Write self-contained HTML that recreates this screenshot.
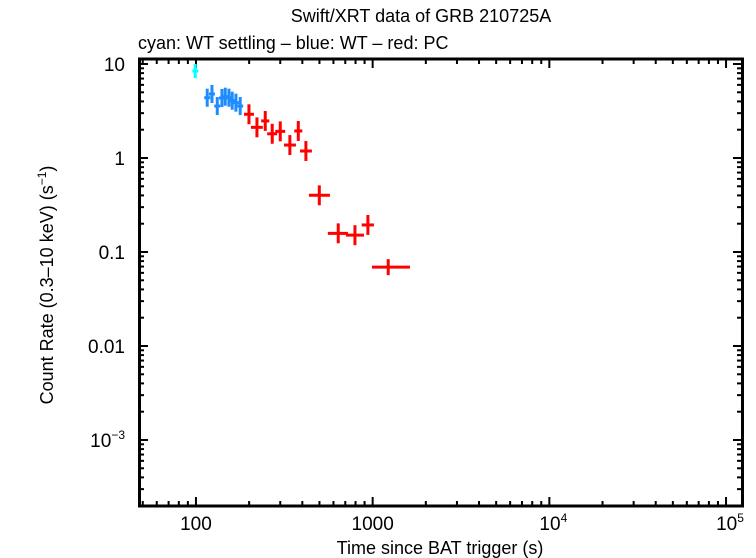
<!DOCTYPE html>
<html><head><meta charset="utf-8"><style>
html,body{margin:0;padding:0;background:#fff}
svg{display:block;font-family:"Liberation Sans",sans-serif}
</style></head><body>
<svg id="c" width="756" height="558" viewBox="0 0 756 558">
<text x="421" y="22" text-anchor="middle" font-size="18">Swift/XRT data of GRB 210725A</text>
<text x="138" y="49" font-size="18">cyan: WT settling – blue: WT – red: PC</text>
<text x="440" y="554" text-anchor="middle" font-size="18">Time since BAT trigger (s)</text>
<text transform="translate(53,285) rotate(-90)" text-anchor="middle" font-size="18">Count Rate (0.3–10 keV) (s<tspan font-size="12" dy="-7">−1</tspan><tspan dy="7">)</tspan></text>
<g id="marks"></g>
<rect x="139.5" y="59" width="603" height="447" fill="none" stroke="#000" stroke-width="3"/>
</svg>
<script>
const cyanT=[99], cyanTLo=[95.5], cyanTHi=[103], cyanR=[8.42], cyanErr=[0.075];
const blueT=[115.8,123.2,132,140.3,146.5,153.7,160.4,168.3,178];
const blueR=[4.38,4.80,3.57,4.35,4.49,4.38,4.07,3.88,3.57];
const blueTErr=[0.017,0.017,0.017,0.017,0.017,0.017,0.017,0.017,0.017];
const blueErr=[0.096,0.096,0.096,0.096,0.096,0.096,0.096,0.096,0.096];
const redT=[199.5,221.4,246.7,270.2,300,340,379.5,419,499,638.6,794,940,1225];
const redTLo=[187,204.7,234,253,281,315,360,388,436,558,706,867,991];
const redTHi=[213,239,260,288,320,368,400,453,573,725,893,1017,1626];
const redR=[2.92,2.12,2.48,1.81,1.92,1.374,1.94,1.187,0.401,0.158,0.151,0.194,0.069];
const redErr=[0.106,0.106,0.106,0.106,0.106,0.106,0.106,0.106,0.106,0.106,0.106,0.106,0.085];
const xTicks=[100,1000,1e4,1e5], xLabels=["100","1000","10^4","10^5"];
const yTicks=[10,1,0.1,0.01,0.001], yLabels=["10","1","0.1","0.01","10^−3"];

const X0=138,X1=743,Y0=58,Y1=507;
const xmin=1.672,xmax=5.096,ymin=-3.713,ymax=1.064;
function xs(v){return X0+(Math.log10(v)-xmin)/(xmax-xmin)*(X1-X0);}
function ys(v){return Y1-(Math.log10(v)-ymin)/(ymax-ymin)*(Y1-Y0);}
const NS="http://www.w3.org/2000/svg";
const svg=document.getElementById('c'), g=document.getElementById('marks');
function el(t,a,p){const e=document.createElementNS(NS,t);for(const k in a)e.setAttribute(k,a[k]);(p||g).appendChild(e);return e;}
function line(x1,y1,x2,y2,c,w){return el('line',{x1,y1,x2,y2,stroke:c,'stroke-width':w});}
for(let d=1;d<=5;d++)for(let m=1;m<10;m++){const v=m*Math.pow(10,d);if(Math.log10(v)<xmin||Math.log10(v)>xmax)continue;
 const x=xs(v),L=m==1?10:6;
 const t1=line(x,Y1,x,Y1-L,'#000',2);
 const t2=line(x,Y0,x,Y0+L,'#000',2);}
for(let d=-4;d<=1;d++)for(let m=1;m<10;m++){const v=m*Math.pow(10,d);const lv=Math.log10(v);if(lv<ymin||lv>ymax)continue;
 const y=ys(v),L=m==1?10:6;
 const t1=line(X0,y,X0+L,y,'#000',2);
 const t2=line(X1,y,X1-L,y,'#000',2);}
function lab(s,x,y,anchor,nm){const t=el('text',{x,y,'text-anchor':anchor,'font-size':19},svg);
 
 const p=s.split('^');t.appendChild(document.createTextNode(p[0]));
 if(p[1]){const ts=el('tspan',{'font-size':12,dy:-8},t);ts.textContent=p[1];}return t;}
xTicks.forEach((v,i)=>lab(xLabels[i],xs(v)+(xLabels[i].includes('^')?4:0),530,'middle','x-tick-label'));
yTicks.forEach((v,i)=>lab(yLabels[i],X0-13,ys(v)+7,'end','y-tick-label'));
function pt(t,lo,hi,r,e,c,nm){
 const y=ys(r);
 const h=line(xs(lo),y,xs(hi),y,c,3);
 const v=line(xs(t),ys(r*Math.pow(10,-e)),xs(t),ys(r*Math.pow(10,e)),c,3);}
cyanT.forEach((t,i)=>pt(t,cyanTLo[i],cyanTHi[i],cyanR[i],cyanErr[i],'#00ffff','wt-settling-point'));
blueT.forEach((t,i)=>pt(t,t*Math.pow(10,-blueTErr[i]),t*Math.pow(10,blueTErr[i]),blueR[i],blueErr[i],'#1e8cff','wt-point'));
redT.forEach((t,i)=>pt(t,redTLo[i],redTHi[i],redR[i],redErr[i],'#ff0000','pc-point'));
</script>
</body></html>
